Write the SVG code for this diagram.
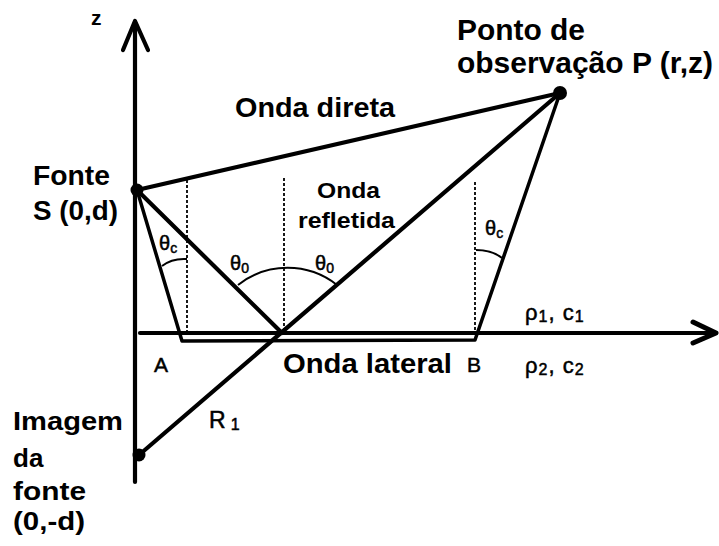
<svg xmlns="http://www.w3.org/2000/svg" width="719" height="546" viewBox="0 0 719 546">
<style>
.lbl{font-family:"Liberation Sans",Arial,sans-serif;font-weight:bold;fill:#000}
.sm{font-family:"Liberation Sans",Arial,sans-serif;fill:#000;stroke:#000;stroke-width:0.5}
.ln{stroke:#000;stroke-width:4.2;fill:none;stroke-linecap:round;stroke-linejoin:round}
.dash{stroke:#000;stroke-width:1.8;stroke-dasharray:3 2;fill:none}
.arc{stroke:#000;stroke-width:2;fill:none}
</style>
<rect width="719" height="546" fill="#fff"/>
<g id="axes">
  <line class="ln" x1="135" y1="22" x2="135" y2="482"/>
  <polyline class="ln" points="123,50 135,21 148,50"/>
  <line class="ln" x1="140" y1="333" x2="716" y2="333"/>
  <polyline class="ln" style="stroke-width:5" points="693,322 716,333 693,343"/>
  <text class="lbl" x="91" y="25" font-size="21">z</text>
</g>
<g id="connectors">
  <line class="ln" x1="137" y1="190" x2="560" y2="93"/>
  <polyline class="ln" points="137,190 282,333"/>
  <line class="ln" x1="139" y1="455" x2="560" y2="93"/>
  <polyline class="ln" style="stroke-width:3.5" points="137,190 182,341 475,340 560,93"/>
  <line class="dash" x1="187" y1="180" x2="187" y2="333"/>
  <line class="dash" x1="284" y1="178" x2="284" y2="333"/>
  <line class="dash" x1="475" y1="182" x2="475" y2="333"/>
  <path class="arc" d="M162,266 Q172,258 187,259"/>
  <path class="arc" d="M238,285 A80 80 0 0 1 337,285"/>
  <path class="arc" d="M476,250 Q492,250 502,258"/>
</g>
<g id="source">
  <circle cx="137" cy="190" r="6.5"/>
  <text class="lbl" x="33" y="185" font-size="27" textLength="77" lengthAdjust="spacingAndGlyphs">Fonte</text>
  <text class="lbl" x="33" y="220" font-size="27" textLength="85" lengthAdjust="spacingAndGlyphs">S (0,d)</text>
</g>
<g id="observation">
  <circle cx="560" cy="93" r="7"/>
  <text class="lbl" x="457" y="40" font-size="29" textLength="128" lengthAdjust="spacingAndGlyphs">Ponto de</text>
  <text class="lbl" x="457" y="73" font-size="29" textLength="256" lengthAdjust="spacingAndGlyphs">observação P (r,z)</text>
</g>
<g id="image">
  <circle cx="139" cy="455" r="6.5"/>
  <text class="lbl" x="13" y="430" font-size="26" textLength="110" lengthAdjust="spacingAndGlyphs">Imagem</text>
  <text class="lbl" x="13" y="467" font-size="26">da</text>
  <text class="lbl" x="13" y="500" font-size="26" textLength="73" lengthAdjust="spacingAndGlyphs">fonte</text>
  <text class="lbl" x="13" y="530" font-size="26" textLength="72" lengthAdjust="spacingAndGlyphs">(0,-d)</text>
</g>
<g id="waves">
  <text class="lbl" x="235" y="117" font-size="27" textLength="160" lengthAdjust="spacingAndGlyphs">Onda direta</text>
  <text class="lbl" x="317" y="198" font-size="22" textLength="63" lengthAdjust="spacingAndGlyphs">Onda</text>
  <text class="lbl" x="298" y="228" font-size="22" textLength="97" lengthAdjust="spacingAndGlyphs">refletida</text>
  <text class="lbl" x="283" y="373" font-size="27" textLength="169" lengthAdjust="spacingAndGlyphs">Onda lateral</text>
</g>
<g id="labels">
  <text class="sm" x="154" y="372" font-size="21">A</text>
  <text class="sm" x="467" y="372" font-size="21">B</text>
  <text class="sm" x="209" y="428" font-size="23">R<tspan font-size="16" dx="5" dy="2">1</tspan></text>
  <text class="sm" x="525" y="320" font-size="22" letter-spacing="1">ρ<tspan font-size="16" dy="2">1</tspan><tspan dy="-2">, c</tspan><tspan font-size="16" dy="2">1</tspan></text>
  <text class="sm" x="525" y="373" font-size="22" letter-spacing="1">ρ<tspan font-size="16" dy="2">2</tspan><tspan dy="-2">, c</tspan><tspan font-size="16" dy="2">2</tspan></text>
  <text class="sm" x="159" y="250" font-size="20">θ<tspan font-size="14" dy="3">c</tspan></text>
  <text class="sm" x="230" y="270" font-size="20">θ<tspan font-size="14" dy="3">0</tspan></text>
  <text class="sm" x="315" y="270" font-size="20">θ<tspan font-size="14" dy="3">0</tspan></text>
  <text class="sm" x="485" y="235" font-size="20">θ<tspan font-size="14" dy="3">c</tspan></text>
</g>
</svg>
